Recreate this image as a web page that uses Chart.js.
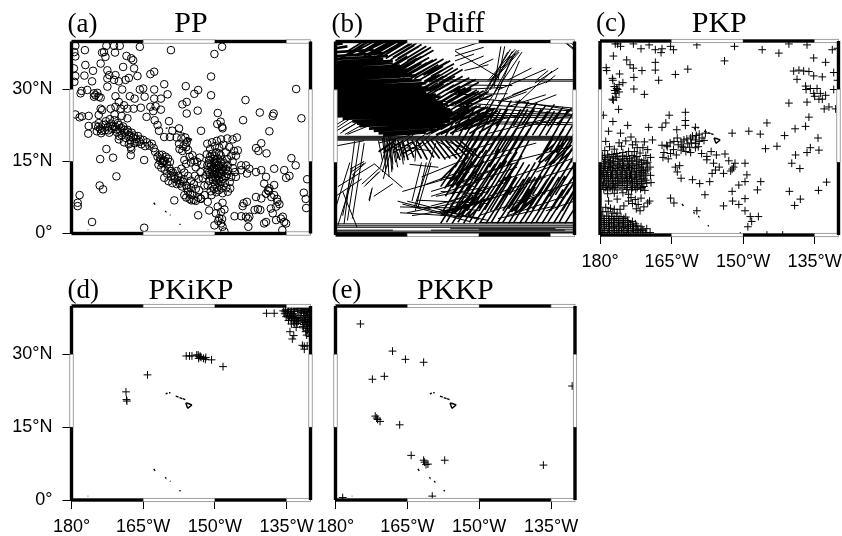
<!DOCTYPE html>
<html>
<head>
<meta charset="utf-8">
<title>Seismic phase coverage</title>
<script src="https://cdn.jsdelivr.net/npm/chart.js@4/dist/chart.umd.min.js"></script>
<style>
  html, body { margin: 0; padding: 0; background: #fff; }
  #page { position: relative; width: 842px; height: 536px; overflow: hidden; }
  canvas { position: absolute; }
</style>
</head>
<body>
<div id="page"></div>
<script>
// Axis ticks and labels (longitudes are degrees west)
const lonTicks = [180, 165, 150, 135];
const lonLabels = ['180°', '165°W', '150°W', '135°W'];
const latTicks = [0, 15, 30];
const latLabels = ['0°', '15°N', '30°N'];
const lonBreaks = [180, 165, 150, 135, 130];
const latBreaks = [40, 30, 15, 0];

// PP bounce points [lon W, lat N]
const ppPoints = [
  [179.2,39.1],[179.4,37.8],[179.2,36.9],[177.2,38.2],[172.7,39.1],[171.1,39.1],[169.9,39.1],[165.7,38.9],[159.2,38.2],[150.1,37.4],[148.5,38.9],
  [173.2,37.8],[170.9,37.7],[173.6,37.7],[168.5,37],[167.5,36.5],[167.1,36.1],[177.1,35.1],[173.9,35.4],[172.9,36.8],[179.5,34.4],[179.2,32.8],
  [177.3,32.9],[179.4,31.6],[175.5,33.9],[175.7,31.7],[169.2,34.7],[166.9,34.4],[166.2,32.8],[172.5,34],[172.1,33],[170.8,33],[172.5,32.3],[171.1,32],[170.1,31.7],[168.7,32],[168,32.4],[163.5,33.2],[162.7,33.7],
  [150.8,32.7],[160.6,31.1],[156.1,30.7],[162.7,30],[154.3,29.1],[153.5,29.9],[159.9,29],[150.8,28.8],[133,30.1],[143.6,27.8],
  [178.1,29.2],[177.9,29.7],[176.7,29.9],[175.3,29.2],[175,28.8],[174.3,28.5],[174.6,29.3],[173.9,28.3],[175.3,28.5],[172.5,30.6],[170.8,28.6],[169.4,30],[167.8,28.6],[166.8,28.1],[165.7,30],[165,30.2],[164.7,28.5],[162.7,28.1],[161.3,28.1],
  [170.1,27.4],[169,26.7],[168.3,26],[170.8,26.4],[171.8,26],[173.6,25.7],[174.3,24.7],[173.9,26],[169.7,26],[179.2,24.8],[178.3,24.2],[177.8,24.4],[176.4,24.5],[176.4,22.4],[176.5,20.8],
  [167,26],[165.5,26.2],[164.3,24.3],[163.5,26.4],[162.4,26.5],[161.3,25.8],[162.9,25.5],[162.6,23.6],[162,22.6],[159.6,23.4],[160.6,20.1],[159.4,20.1],[158.9,21.4],[157.5,21.9],[161.7,21.4],
  [156.8,26.9],[155.9,27.4],[155.9,25],[153.6,25.6],[152.9,21.4],[149.4,25.1],[149.5,22.8],[148.8,23.3],[148.5,22.2],[148.4,21.9],[144.1,23.6],[140.6,25.2],[137.9,24.5],[137.7,25],[138.6,21.3],[131.9,24],
  [140.3,18.8],[141.4,17.8],[140.9,17.2],[139.2,16.7],[134,15.7],[133.1,14.2],[137.6,13.5],[135.5,13.2],[134.4,12],[135.1,11.6],[130.7,11.3],[131.4,8.5],[131,7.2],[130.9,5.3],
  [172.7,17.6],[171.3,15.8],[170.1,19.6],[174,15.5],[170.6,11.9],[174.1,10],[173.4,9.2],[178.3,8],[178.7,6.4],[178.7,5.7],[175.7,2.4],[164.8,1.2],[167.6,16.3],[167.6,18],[164.8,15.3],[158.5,6.9],[153.5,3.8],
  [175,22.5],[174.7,21.3],[174.3,23],[174,21.8],[173.8,20.9],[173.4,22.6],[173,21.5],[172.8,23.4],[172.4,22.2],[172.1,21],[171.7,22.9],[171.5,21.8],[171,23.6],[170.8,22.2],[170.5,21.1],[170.1,22.6],[169.8,21.4],[169.5,20.5],[169.2,22.3],[168.9,21],[168.6,19.9],[168.3,21.6],[168,20.5],[167.7,19.4],[167.4,21],[167.1,20],[166.8,18.8],[166.5,19.7],[166.1,20.3],[165.8,19.1],[165.4,18.6],[165,19.5],[164.6,18.2],[164.2,19],[163.7,18.3],[163.2,18.7],[162.8,17.8],[168,18.6],[167.5,17.5],[169,19],[170,20.3],[172,23.8],[171,24.8],[169.5,24.5],[168.3,24],
  [174.4,22.2],[173.6,21.4],[172.9,22.7],[172.3,21.5],[171.3,22.4],[170.6,21.7],[170.3,23],[169.6,22],[168.9,21.6],[168.1,21.1],[167.6,20.2],[166.9,20.4],[166.3,19.1],[165.6,19.6],
  [162.5,17],[162,16],[161.5,15.2],[161,16.4],[160.7,15],[160.3,16],[160,14.4],[159.8,15.6],[161.8,14.3],[161.2,13.7],[160.5,13.3],[160,12.5],[159.5,13.6],[159.2,11.9],[158.8,12.7],[158.4,11.4],[158,10.3],[158.9,10.5],[157.6,12],[157.2,11],[156.9,9.8],[156.5,11.3],[156,10],[155.6,8.7],[156.4,8],[156,7.5],[155.3,7.2],[154.9,6.9],[154.4,7],[154,6.8],[153.5,7.5],[153,7.3],[155,9.5],[154.4,10.3],[154,9.3],[153.3,9],[159.7,10.9],[160.6,11.6],[158,13],[157,13.5],[156.4,12.7],[155.6,12],[155,11],[154.2,12],
  [161.3,15.6],[160.5,15.2],[161,14.6],[159.4,14.9],[159.2,13],[158.5,12],[157.8,11.1],[157.3,10.4],[156.7,10.8],[155.8,9.4],[155.2,8.3],[154.7,8],[161.6,16.4],[160.9,15.1],
  [158,20],[157.5,18.7],[157,19.8],[156.6,18.2],[156.2,20],[156,18],[155.9,19],[157.4,17.6],[156.8,17.2],[155.6,17.4],[155.3,16],[155,14.8],[154.7,16.3],[154.3,15.2],[154,13.8],[153.7,14.9],[156,14.5],[156.4,15.3],[153.2,15.8],[152.8,14.4],[153,12.8],[152.5,11.5],[153.4,11.4],[152.2,10],
  [151.6,18.7],[150.6,19],[149.6,19.3],[148.7,19.6],[147.4,19.8],[151,17.6],[150,18.2],[149.1,17.9],[148.2,18.5],[147,18],[146,17.2],[151.7,16.5],[150.6,16.6],[149.7,16.9],[148.8,16.3],[147.7,16.9],[146.6,16.2],[151.2,15.3],[150.3,15.5],[149.4,15.6],[148.4,15.2],[147.4,15.5],[146.3,15],
  [151.6,14.2],[150.8,14.4],[150,14.6],[149.2,14.2],[148.3,14],[147.3,14.2],[146.2,13.6],[151.5,13.2],[150.7,13.4],[149.9,13.3],[149,13.1],[148.2,12.9],[147.2,13],[145.8,12.8],[151.8,12.2],[151,12.3],[150.2,12.4],[149.4,12],[148.6,11.8],[147.7,11.9],[146.6,11.8],[151.2,11],[150.4,11.2],[149.6,10.9],[148.8,10.7],[147.9,10.5],[146.9,10.7],[151.5,10],[150.5,9.8],[149.5,9.6],[148.6,9.4],[147.6,9.6],[150.9,8.8],[149.7,8.6],[148.4,8.4],
  [150.9,13.9],[150.2,13.7],[149.6,13.6],[149,13.8],[148.5,13.4],[150.5,12.9],[149.9,12.8],[149.2,12.6],[148.7,12.4],[151.2,12.8],[150.6,11.8],[149.9,11.6],[149.2,11.3],[148.4,11.3],[150.1,15],[149.6,14.9],[148.8,14.8],[148,14.6],[147.7,13.4],[147.4,12.4],[151.2,14.6],[151,16],[150,16.1],[149.1,16.7],[150,10.3],[149,10.2],[150.2,9.3],[149.2,9],
  [146.8,9.4],[147.3,8.7],[151.5,6.6],[152.9,7.2],[145.6,11.8],[148.4,6.4],[150.7,8],[152.1,8],[146.3,19.6],[145.4,20],[145.2,17.3],[145.6,16.2],
  [149.4,5.6],[151.2,4.8],[149.8,4.2],[148.7,4.5],[148,5],[149.1,3.2],[148.7,2.1],[148.4,1.4],[150.1,1.7],[148,0.4],[149.3,2.6],[148.5,3],
  [145.9,3.6],[144.5,3.6],[143.3,6.6],[144,6.3],[144.2,5.7],[143.5,3.5],[142.8,3.5],[143.1,3.1],[143,1.4],[141.7,4.9],[141,5.1],[140.5,4.9],[140.3,7.3],[141.4,7.6],[139.3,2.4],[139.7,2.1],[138.3,5.2],[137.2,5.6],[136.5,6.1],[136.9,6.6],[137.6,8],[138.9,9],[139.3,8.3],[138.6,9.4],[137.6,10.1],[139.3,11.8],[139.7,10.4],[140.3,13.2],[141.4,12.8],[142.8,13.5],[143.5,14.2],[144.5,14.2],[144.5,13.2],[143.3,12.5],[137.9,4.2],[137.2,2.8],[136.2,3.1],[135.5,2.4],[135.1,2.1],[135.9,0.7],[135.8,3.5],[138.7,8.8],[138.2,7.6],[137,7.2]
];

// Pdiff diffracted path segments [lon1, lat1, lon2, lat2]
const pdiffCore = [
  [180,39.4,178.5,39.6],[180,38.6,177.5,39],[180,37.8,172,38.3],[180,37,170,37.6],[180,36.4,169,37],[180,35.8,170,36.4],[180,35.3,168,36],[180,34.8,168,35.6],[180,34.3,166.5,35],[180,33.8,167,34.6],[180,33.3,165,34.2],[180,32.8,165.5,33.6],[180,32.4,164,33.3],[180,32,163,33],[180,31.5,164,32.3],[180,31,162,32],[180,30.5,161,31.4],[180,30,162,30.9],[180,29.5,160.5,30.5],[180,29,160,30],[180,28.5,161,29.5],[180,28,159,29],[180,27.5,158,28.6],[180,27,159,28],[180,26.5,157.5,27.5],[180,26,156.5,27],[180,25.5,157,26.5],[180,25,156,26],[180,24.5,155.5,25.5],[178.5,24,155,25],[176.5,23.5,156,24.5],[175.5,23,155,24],[175,22.5,156,23.5],[173,22,157,23],[172,21.5,157,22.5],[171,21,159,21.8],[170,20.6,161,21.2]
];
const pdiffEdge = [
  [178,37,173,40],[177,37.3,172,40],[176,37,171,40],[175,37.2,170,40],[174,37,169,39.8],[173,37,168,39.9],[172,37.2,167,40],[171,37,166,39.8],[170,37,165,40],[169,36.8,164,39.6],[168,36.7,163,39.7],[167,36.5,162,39.4],[166,36,161,39],[165,36,160,38.8],
  [179,36.5,174,39.6],[177.5,38,174.5,39.8],[175.5,37,170.5,39.9],[174.5,37.6,169.5,40],[173.5,36.8,168.5,39.8],[172.5,37.5,167.5,40],[171.5,36.8,166.5,39.7],[170.5,37.2,165.5,40],[169.5,36.5,164.5,39.5],[168.5,36.2,163.5,39.2],[167.5,36,162.5,39],[166.5,35.7,161.5,38.7],[165.5,35.5,160.5,38.5],[164.5,35.3,159.5,38.2],
  [170,34,165,37],[169,34.3,164,37.2],[168,33.6,163,36.5],[167.2,34,162,36.9],[166.4,33.5,161,36.4],[165.6,33.7,160.4,36.7],[164.8,33.4,159.6,36.2],[164,33.5,158.8,36.4],[163.2,33.2,158,36],[162.4,33.5,157.4,36.4],[161.6,33,156.6,35.8],[160.8,33.3,156,36],[160,32.8,155.2,35.4],
  [171,33,166,36],[169.6,33,164.6,36],[168.4,32.8,163.4,35.8],[167,32.5,162,35.5],[165.9,32.6,160.9,35.6],[164.5,32.2,159.5,35.2],[163.5,32.3,158.5,35.2],[162.5,32,157.5,34.9],[161.4,31.8,156.4,34.8],[160.4,31.6,155.4,34.6],[159.4,31.5,154.4,34.4],[158.4,31.3,153.4,34.2],
  [164,30,159,33],[163.2,30.4,158.2,33.2],[162.4,30,157.4,32.8],[161.6,30.3,156.6,33],[160.8,29.8,155.8,32.6],[160,30,155,32.8],[159.2,29.7,154.2,32.4],[158.4,30,153.4,32.8],[157.6,29.6,152.6,32.2],[156.8,29.9,152,32.5],[156,29.4,151.2,32],[155.2,29.7,150.6,32.2],[154.4,29.2,150,31.6],
  [163.6,28.5,158.6,31.5],[162.4,28.2,157.4,31.2],[161.4,28.3,156.4,31.3],[160.2,28,155.2,31],[159,27.8,154,30.8],[157.8,27.5,152.8,30.5],[156.6,27.6,151.6,30.4],[155.4,27.2,150.4,30],[154,27,149,29.8],[152.8,26.8,148,29.6],
  [159,27,154,30],[158.2,27.4,153.2,30.2],[157.4,27,152.4,29.7],[156.6,27.3,151.6,30],[155.8,26.8,150.8,29.4],[155,27,150,29.7],[154.2,26.6,149.4,29],[153.4,26.9,148.6,29.4],[152.6,26.4,148,28.7],[151.8,26.7,147.2,29],
  [157,24,152,27],[156.2,24.4,151.2,27],[155.4,24,150.4,26.7],[154.6,24.2,149.6,26.8],[153.8,23.8,148.8,26.4],[153,24,148,26.5],[152.2,23.6,147.4,26],[151.4,23.8,146.6,26.2],[150.6,23.4,146,25.7],[155,22,150,24.6],[154,21.6,149,24.4],[153,21.8,148.2,24],[152,21,147.4,23.6],
  [160,24.5,155,27.5],[159,24,154,27],[158,23.8,153,26.8],[157,23.4,152,26.2],[156,23.2,151,26],[155,23,150,25.8],[154,22.6,149,25.4],[153,22.4,148,25.2],[152,22,147,24.8],[151,21.6,146,24.4],[150,21.2,145,24],[158,21.8,153,24.6],[157,21.2,152,24],[156,21,151,23.8],
  [162,21,157,23.5],[161,20.8,156,23.2],[160,21,155,23.6],[159,20.7,154,23],[158,20.8,153,23.3],
  // mass under the 20N band
  [168,19.6,166.5,15.5],[167,19.6,165.6,16],[166,19.6,164.8,15.5],[165,19.6,163.6,16],[164,19.6,162,15.8],[163,19.6,160.8,15.6],[162,19.6,159.4,16],[161,19.6,158.2,15.8],[160,19.6,157,15.6],[159,19.6,156,15.8],[158,19.6,154.6,15.8],[157,19.6,153.6,15.8],[156,19.6,152.4,16.2],[155,19.6,151,16.2],[154,19.6,150,16],[167.5,19.6,171,17.2],[166,19.4,170,17],[164,19.2,168,17],[162,19,166,16.8]
];
const pdiffLines = [
  // horizontal bands
  [180,20,130,20],[180,20.2,130,20.2],[180,20.4,130,20.4],[180,19.8,130,19.8],[180,19.6,130,19.6],[160,32.1,130,32.1],[160,31.8,130,31.8],[142.4,27.7,130.3,25.8],[150,28.2,130,26.2],[158.7,27.7,130,25.6],[158,26.9,130,24.9],[157,24.8,130,24.6],[156,24.4,130,24.2],[155,25.2,131,25],[150,23.4,130,23.2],[150,23,130,22.8],[180,18.4,174,19.5],
  [180,1.9,130,1.9],[180,1.6,130,1.6],[180,2.3,130,2.3],[180,0.8,130,0.8],[180,0.5,130,0.5],[180,0.3,130,0.3],[180,1,168,1],[160,1,132,1],[156,1.3,134,1.3],[150,2.6,130,2.6],[150,1.2,130,1.2],
  // white wedge at the left edge above the 20N band
  [180,21.4,176.5,23.5],[180,22,177,24],[179,21,175,23.6],[178,20.8,174,23],[180,22.7,177.5,24.2],[178.5,21.5,175.5,23.2],[177.5,20.8,173.5,22.4],
  // lower edge of the core
  [170,22,169.5,13],[169,21,168,13.5],[168.5,21,168,14.6],[169.3,20,168.8,12],[168.8,20,168.2,13],[168,20,167,14],[167.5,20,167,15.8],[166.5,19,165.8,14.6],[169.8,20,169,14],[170.2,20,169.5,15],[167,19,166.3,16.2],[168.2,19,167.4,15],[169,19,168.4,16],[166,19,165.6,15.4],[171,19.5,170.2,15.5],[163,19.6,163.4,15.2],
  [163,21,171,19],[162,22,168,17.5],[161,21,166,17.4],[160,21,164,17],[158,21,165,16.4],[159,19.5,156,18],[157,19.5,152,17.5],
  // bottom left sparse paths
  [176,19.4,178.2,2.3],[175,19.2,177.5,3],[174,19,176.5,3.4],[179.5,2,176,13],[178.5,4,176.5,14],[180,5.5,177,15],[179.5,10,172,14.6],[180,8,174.5,11.6],[178.5,9,175.5,1.6],
  [177,13.6,174,15.2],[176.8,13,174,14.8],[176.5,12.4,173.6,15],[174.5,10.5,170.6,14],[174,10,171,13],[173.6,10.4,170.6,13.2],[172,14.8,166,9.8],[173,7.2,172.3,9.8],[172.9,7,172.4,9.4],[170.6,14,169,19.5],[170.2,13,168.5,19],[170,11.6,168,19],
  [165,18,160,17.4],[164.5,14.6,158.5,14],[168,10.6,172,8],[162,15,164,7],[161,15,163.3,5],[160,15,162.8,5.5],[159,19,163.5,5.8],[166,9,152,13],[166,6.4,152,2.8],[166.5,4.6,150,3.6],[165,7,150,3.2],
  // sparse mid bottom
  [167,7,154,3.6],[166.5,5.8,155,5.6],[165,4.6,151,7.4],[164,4,152,5.8],[160,9,150,12],[161,10.5,150,14.5],[162,12,152,16],[158,9,150,8.5],[157,12,151,10],[159,8,148,10],[163,7.2,148,6.5],[156,6,150,5],[158,5,148,3],
  // shallow crossing paths on the right
  [158,4,146,8],[156,7,144,11],[157,10,145,14],[155,13,143,17],[150,4,138,8],[148,8,136,12],[146,11,134,15],[144,4,132,8],[142,7,130,11],[140,11,130,14],[150,16,138,19],[157,16,147,19],[146,3.4,134,6],[152,6,140,10],[154,10,142,14],[138,13,130,16],[144,15,132,18],[152,12,142,15],[160,8,150,11],[160,6,148,9],[136,5,130,7],[148,21,136,24],[156,21,144,24.5],[142,22,130,25],[150,23,140,25],
  // bundle toward the top middle
  [147.7,31.9,142,38.2],[147.3,31.9,141.6,38.2],[147,31.9,141.6,37.8],[148.1,31.9,142.4,38.4],[148.5,29,143.4,37],[149.4,28,144,37.8],[150,27.7,143.4,38.4],[149,26,141,37.8],[147,29,142.4,37.6],[146.6,28,143,37],[146.8,30.6,145.4,39],[146,32,144.6,39],[147.6,30,143,38],[145,28,141.5,36],[155,38,146.2,32.8],
  [138.3,31.4,133.4,34.5],[141.4,27.7,134.7,33.9],[144,32,139,34.5],[146,30,136,34.3],[143,29,135,32],[136,31.4,134,33],[138,32,135.5,34],[132,39.8,129.8,38],[131.6,39.7,130,38.4],[131,39.8,130,39.2],
  [155,38.2,150,39.8],[155,37,149,38.8],[155,36,151,37.4],[154,35,149,37],[150,35,147,36.4],[153,34,148,35.2],[145,28,139,30.5],[146,27.4,140,29.6],[144,26.5,136,29],[140,26.6,133.8,29],[155,30,145,30.5],[155,29,144,29.2],[153,31,143,30.9]
];
// Dense hatch on the right side
const pdiffHatch = [
  [158,2.4,153.5,9.5],[156.8,2.6,152.3,10],[155.6,2.4,151.2,9],[154.4,2.6,149.9,9.6],[153.2,2.4,148.8,9.6],[152,2.6,147.6,10],[150.9,2.4,146.4,9.3],[149.7,2.6,145.2,9.8],[148.5,2.4,144,9.4],[147.4,2.6,143,10],[146.2,2.4,141.8,9],[145,2.6,140.5,9.6],[143.8,2.4,139.4,9.6],[142.7,2.6,138.2,10],[141.5,2.4,137,9.2],[140.3,2.6,135.8,9.7],[139.1,2.4,134.6,9.3],[138,2.6,133.5,10],[136.8,2.4,132.4,9.4],[135.6,2.6,131.1,9.6],[134.4,2.4,130,9.4],[133.2,2.6,129.4,9.4],[132,2.4,129,7],
  [157.5,5,153,12],[156.2,5.4,151.8,12.4],[155,5,150.5,11.6],[153.8,5.3,149.4,12],[152.5,5,148,12],[151.4,5.4,147,12.5],[150,5,145.6,11.6],[148.8,5.2,144.4,12],[147.6,5,143.2,12.2],[146.4,5.3,142,12],[145,5,140.6,11.6],[143.8,5.4,139.4,12],[142.6,5,138.2,12],[141.4,5.2,137,12.3],[140,5,135.6,11.6],[138.8,5.3,134.4,12],[137.6,5,133.2,12],[136.4,5.4,132,12.2],[135,5,130.6,11.6],[133.8,5.2,129.4,12],[132.6,5,129,10.6],
  [157,8,152.8,15],[155.6,8.4,151.4,15.2],[154.4,8,150.2,14.6],[153.2,8.3,149,15.4],[152,8,147.8,15],[150.8,8.5,146.6,14.7],[149.6,8,145.4,15],[148.4,8.4,144.2,15.4],[147.2,8,143,14.8],[146,8.4,141.8,15],[144.8,8,140.6,15],[143.6,8.3,139.4,14.6],[142.4,8,138.2,15],[141.2,8.4,137,15.2],[140,8,135.8,14.7],[138.8,8.3,134.6,15],[137.6,8,133.4,15],[136.4,8.4,132.2,15.2],[135.2,8,131,14.8],[134,8.3,129.8,15],[132.8,8,129,14],[131.6,8.4,129.4,12],
  [156,11,152,17.5],[154.8,11.3,150.8,17.8],[153.6,11,149.6,17.4],[152.4,11.4,148.4,17.6],[151,11,147,17.5],[149.8,11.3,145.8,17.8],[148.6,11,144.6,17.4],[147.4,11.4,143.4,17.6],[146,11,142,17.2],[144.6,11.2,141,16.4],[137,11.3,133,17.6],[135.8,11,131.8,17.4],[134.6,11.4,130.6,17.8],[133.4,11,129.4,17.5],[132.2,11.3,129,16],
  [155,14,151.3,20],[153.8,14.4,150.1,20],[152.6,14,148.9,20],[151.4,14.3,147.7,20],[150.2,14,146.5,20],[149,14.2,145.3,20],[147.8,14,144.1,20],[146.6,14.4,142.9,20],[145.4,14,141.7,20],[144.2,14.3,140.5,20],[142,15,139.5,19.6],[137.5,15,134.5,20],[136.3,14,132.6,20],[135.1,14.4,131.4,20],[133.9,14,130.2,20],[132.7,14.3,129,20],[131.5,14,129.4,17.4],[130.8,15,129.6,17],
  [155,17,152,22],[153.6,17.3,150.6,22],[152.2,17,149.2,22],[150.8,17.2,147.8,22],[149.4,17,146.4,22],[148,17.3,145,22],[146.6,17,143.6,22],[145.2,17.2,142.2,22],[143.8,17,140.8,22],[142.4,17.3,139.4,22],[136.6,17,133.6,22],[135.2,17.2,132.2,22],[133.8,17,130.8,22],[132.4,17.3,129.4,22],[131,17,129,20.4],
  [157,20.4,153.8,26],[155.6,20.6,152.4,26.2],[154.2,20.4,151,26],[152.8,20.6,149.6,26],[151.4,20.4,148.2,26],[150,20.6,146.8,26.2],[148.6,20.4,145.4,26],[147.2,20.6,144,26],[145.8,20.4,142.6,26],[144.4,20.6,141.2,26],[143,20.4,139.8,26],[141.6,20.6,138.4,26],[140.2,20.4,137,26],[138.8,20.6,135.6,25.6],[137.4,20.4,134.2,25.6],[136,20.6,132.8,25.8],[134.6,20.4,131.4,25.8],[133.2,20.6,130,25.6],[131.8,20.4,129,25],
  [150,22.5,146.8,28],[148.2,22.8,145,28.2],[146.4,22.5,143.2,27.8],[144.6,22.7,141.4,28],[142.8,22.5,139.6,27.6],[141,22.8,137.8,27.4],[139.2,22.5,136,26.8],[137.4,22.6,134.2,27],[135.6,22.5,132.4,26.4],[133.8,22.7,130.6,26.2],
  // darker patches
  [158,10,153.8,16],[157.2,9.6,153,15.6],[156.4,10.4,152.2,16.4],[155.6,9.8,151.4,15.8],[154.8,10.2,150.6,16],[158,11.4,154.4,15],[156,11,151.8,14.4],[154,9,150,14],[152.4,9.4,148.2,13.6],
  [156,4,152,8],[155.2,4.4,151.2,8],[154.4,3.8,150.4,8],[153.6,4.2,149.6,8.4],[152.8,4,148.8,8],[152,3.8,148,7.6],[158,4.4,148,7.4],[157,5,147,7.8],
  [137,15,133,18.6],[136.2,15.2,132.2,19],[135.4,14.6,131.4,18.4],[134.6,14.8,130.6,18.6],[133.8,14.6,130,18],[138,15.6,134,19],
  [144,4.4,140,8],[143.2,4.8,139.2,8.2],[142.4,4.4,138.4,7.8],[141.6,4.6,137.6,8.2]
];

// PKP points [lon W, lat N]
const pkpPoints = [
  [176.8,39.4],[175.7,38.9],[176.3,39.4],[177.2,36.9],[173,39.4],[171.4,38.4],[169.7,39.2],[168.4,38.2],[167,38.4],[167.2,37.6],[164.6,38.2],[165.2,38.9],[159.7,39.2],[151.8,38.9],[146,38.2],[142.5,37.5],[140.4,39.4],[136.6,39.2],[130.2,38.5],[131.3,38.2],[153.9,35.9],[161.6,34.2],[164.2,33.1],[167.7,31.9],[168.4,35.6],[168.4,34],[174.4,36.1],[173.7,35.1],[173,34.4],[171.2,33.9],[178.7,34.5],[178.6,33.9],[175.9,33.2],[177.4,32.3],[175.2,31.4],[172.9,32.5],[172.9,30.1],[170.7,29],[176.5,30.2],[176.8,29.2],[177.2,27.8],[176.1,25.9],[177.3,31.9],[177,30.6],[176,31],[176.6,28.4],[177.4,28],[176,29.5],[176.3,30],[176.9,29.8],
  [179.3,24.7],[177.3,23.4],[178.2,21.4],[174.2,22.6],[175.7,21],[169.8,22.2],[167,22.2],[166.2,23.1],[165.5,24.7],[162.1,25.3],[162.1,23.6],[162.1,22.6],[163.9,21.7],[160,22.2],[157.9,21],[152.3,21],[148.8,21.4],[146.4,20.8],[145,23.1],[145.3,17.8],[142.9,18.3],[141.3,20.5],[139.1,21.9],[136.9,22.4],[136.2,24.3],[134.3,20],[139,16.5],[136.6,17],[135.9,18],[134.1,17.5],[139.8,14.8],[138.1,13.7],[132.5,10.9],[134.2,9.2],[140.3,9],[138,7.4],[139.2,6.1],
  [139.4,33.8],[138.3,34],[137.3,33.8],[136.2,33.7],[135.2,32.8],[133.4,32.6],[138.7,32.1],[132.7,35.6],[135.2,36.5],[131,33.5],[130.2,31.9],[136.9,30.7],[135.9,30.2],[134.5,30.2],[133.8,29.2],[132.7,28.8],[135.2,29.2],[134.1,28],[136.6,27.4],[140.4,27.2],[131,30],[132,26.4],[130.6,26],[133,26],[136.8,30],[135,28.6],[133.4,28],
  [169,19.6],[170.7,19.2],[172.5,19.2],[167,18.5],[165.9,18.2],[164.5,19.3],[163.8,20],[162.4,19.6],[161,20],[159.2,20.8],[158.6,20],[166.6,17],[165.2,16.8],[164.2,14],[163,11.7],[160.6,11.4],[159.1,10.6],[158,8.3],[159.4,18.2],[158.7,16.8],[157.6,15.5],[156.2,14.8],[155.8,13.4],[154.1,12.7],[153,15.3],[151.7,14.8],[149.6,14.8],[149.2,12.4],[149.6,11],[150.9,10.3],[146.3,11],[152.3,9],[154.1,6],[152.2,7],[150.9,6.3],[149.6,7.5],[149.6,5],[148.5,3.8],[146.8,3.8],[148.2,2.8],[149,1.7],[165.2,7.6],[164.5,6.6],[159.7,5],[156.7,17.2],[155.6,16.5],[153.8,16.7],[157.6,16.2],
  [166,18.5],[165.3,19],[164.6,17.6],[163.6,18.6],[163,19.2],[162.5,18],[161.6,18.8],[160.8,19],[160,19.6],[163,17.5],[162,17.2],[164,16.5],[161,17],[160,18],[159.2,19.3],[158.2,19.5],[161.8,19.8],[160.6,20.4],[159.8,20.5],[166.8,16],[165.7,15.7],[163.3,14.3],[163.8,13],[152,14],[152.6,13.2],[156.5,12.7],[157,11],[155,14],[147,9.3],[162.8,18.3],[161.2,18.1],[159.9,18.9],[152.3,13.6],
  [176,19],[175.5,18.3],[174.6,19.4],[173.5,20.2],[173.2,18.6],[172.2,18],[171,18],[170,17.6],[178.8,19.3],[178,18.2],[179,17.4],[177,17.7],[176.5,16.8],[175.2,17],[174,17.2],[172.8,17.2],[171.6,16.9],[170.4,16.4],[169.4,16],
  [179.5,16.4],[178.4,16.5],[177.5,16.6],[179.7,15.5],[178.8,15.6],[177.8,15.4],[176.8,15.8],[175.8,15.6],[174.8,15.8],[173.8,15.7],[172.8,15.9],[171.8,15.5],[170.8,15.4],[179.3,14.7],[178.3,14.6],[177.3,14.8],[176.3,14.6],[175.3,14.8],[174.3,14.6],[173.3,14.8],[172.3,14.6],[171.3,14.5],[170.3,14.7],[169.5,14],
  [179.6,13.8],[178.8,13.7],[177.8,13.9],[176.8,13.7],[175.8,13.9],[174.8,13.7],[173.8,13.9],[172.8,13.7],[171.8,13.8],[170.9,13.4],[179.2,12.9],[178.3,12.9],[177.3,13],[176.3,12.8],[175.3,13],[174.3,12.8],[173.3,13],[172.3,12.8],[171.3,12.9],[170.4,12.6],[169.4,12.3],
  [179.6,12.1],[178.7,12],[177.8,12.1],[176.8,11.9],[175.8,12.1],[174.8,11.9],[173.8,12.1],[172.8,11.9],[171.8,12],[170.8,11.7],[169.3,10.8],[179.2,11.1],[178.2,11.2],[177.3,11],[176.3,11.2],[175.3,11],[174.3,11.2],[173.3,11],[172.3,11.1],[171.3,11],[170.2,10.7],
  [179.5,10.2],[178.6,10.3],[177.7,10.1],[176.7,10.3],[175.8,10.2],[174.8,10.2],[173.7,10.3],[172.8,10.1],[171.8,10.3],[170.8,10],[179.2,9.4],[178.4,9.3],[177.4,9.5],[176.4,9.3],[174.4,9.4],[173.4,9.3],[172.5,9.4],[174,8.4],[173.5,7.7],[174,7],[173.2,6.5],[177,8.6],[178.4,8.5],[175.2,8.7],
  [179.1,16],[178.1,16.1],[177.2,16.1],[176.3,16.2],[175.3,16.3],[174.4,16.2],[173.3,16.4],[172.3,16.2],[179,15.1],[178.1,15],[177.2,15.1],[176.2,15.2],[175.2,15.3],[174.2,15.2],[173.3,15.3],[172.3,15.2],[171.3,15],[170,15],[179.1,14.2],[178.1,14.1],[177.1,14.3],[176,14.2],[175.1,14.3],[174,14.2],[173.1,14.3],[172,14.2],[171,14],[170,13.6],
  [179.2,13.3],[178.4,13.3],[177.4,13.4],[176.4,13.3],[175.4,13.4],[174.4,13.3],[173.4,13.4],[172.4,13.2],[171.4,13.3],[170.4,13.2],[179.4,12.5],[178.6,12.4],[177.6,12.5],[176.6,12.4],[175.6,12.5],[174.6,12.4],[173.6,12.5],[172.6,12.4],[171.6,12.4],[170.8,12.2],[179.1,11.6],[178.3,11.6],[177.4,11.6],[176.3,11.6],[175.4,11.6],[174.4,11.6],[173.4,11.6],[172.4,11.5],[171.4,11.5],[170.4,11.3],[179.2,10.7],[178.2,10.7],[177.2,10.6],[176.2,10.7],[175.2,10.7],[174.2,10.7],[173.2,10.7],[172.2,10.6],[171.2,10.6],
  [178.8,9.8],[177.9,9.7],[176.9,9.8],[175.4,9.7],[174.3,9.8],[173.2,9.8],[172.2,9.8],[171.2,9.8],[171.5,9.5],[170.6,9.2],[172,6.3],[170.8,5.8],[170,6.6],[169.6,7],[175,6],[175.8,5.3],[172.4,5.4],[171.6,5],[176.4,7.4],[178.2,7],[172.6,7.3],[171.4,7.6],
  [178.8,5.7],[177.8,5.5],[177,5.3],[178.3,4.8],[179.4,4.8],[177.3,4.5],[176.4,4.5],[179.6,3.9],[178.6,3.9],[177.6,3.8],[176.6,3.8],[175.6,3.8],[174.6,3.7],[179.2,3],[178.2,3],[177.2,3.1],[176.2,3],[175.2,3],[174.2,3],[173.2,2.8],[172.6,2.3],[179.6,2.2],[178.6,2.2],[177.6,2.3],[176.6,2.1],[175.6,2.3],[174.6,2.1],[173.6,2.2],[172.3,1.9],[171.4,1.7],[179.2,1.4],[178.2,1.3],[177.2,1.5],[176.2,1.3],[175.2,1.5],[174.2,1.3],[173.2,1.4],[172.2,1.2],[171.2,1.2],[170.2,1.3],[179.5,0.5],[178.5,0.5],[177.5,0.6],[176.5,0.5],[175.5,0.6],[174.5,0.5],[173.5,0.6],[172.5,0.5],[171.5,0.6],[170.5,0.5],[169.5,0.5],
  [179.1,3.4],[178.1,3.4],[177,3.4],[176,3.4],[175,3.4],[179.1,2.6],[178.1,2.6],[177.1,2.6],[176.1,2.6],[175.1,2.6],[174.1,2.6],[179,1.8],[178,1.8],[177,1.8],[176,1.8],[175,1.8],[174,1.8],[173,1.8],[179,0.9],[178,0.9],[177,0.9],[176,0.9],[175,0.9],[174,0.9],[173,0.9],[172,0.9],[171,0.9],
  [150.6,-0.2],[145,0],[141.7,0]
];

// PKiKP points [lon W, lat N]
const pkikpPoints = [
  [139.2,38.5],[137.6,38.5],[156,29.7],[155.3,29.7],[154.8,29.7],[153.8,29.9],[153.5,29.9],[153.3,29.6],[153,29.6],[153.4,29.2],[152.9,29.4],[152.4,29.2],[151.9,29.4],[152,29],[150.7,28.9],[148.3,27.5],[164.1,25.8],[168.6,22.3],[168.5,20.7],[168.4,20.4],
  [134.3,34.7],[133.5,33.9],[133.8,33.2],[131.7,31.9],[131.3,31.7],[131.3,31.1],[130.7,31.8],
  [135.7,39],[135.2,39.2],[134.6,39.3],[134,39.4],[133.4,39.3],[132.8,39.5],[132.2,39.4],[131.6,39.5],[131,39.3],[130.4,39.4],[135.4,38.4],[134.8,38.5],[134.2,38.6],[133.6,38.4],[132,38.6],[131.4,38.5],[130.8,38.6],[130.2,38.3],[135.1,37.8],[134.4,37.7],[133.8,37.8],[133.2,37.7],[132.6,37.6],[131.1,37.7],[130.5,37.6],[134.6,37],[134,37],[133.4,37.1],[132.5,36.9],[131.7,37],[131,36.9],[130.3,36.8],[134,36.3],[133.4,36.3],[132.8,36.4],[131.4,36.2],[130.8,36.2],[130.2,36],[133,35.6],[131.5,35.5],[130.9,35.4],[130.3,35.3],[131,34.7],[130.3,34.6],[130.8,34],[130.2,33.7],
  [135.3,38.8],[134.7,38.9],[134,38.9],[133.3,38.9],[132.6,39],[131.9,39],[131.2,38.9],[130.6,38.9],[134.9,38],[134.2,38.1],[133.5,38.1],[132.2,38],[131.4,38],[130.7,38],[130.3,37.2],[131.2,37.3],[132,37.3],[133,37.4],[134,37.4],[133.5,36.7],[132.9,36.7],[131.2,36.6],[130.6,36.5],[131.6,35.8],[130.6,35.8],[130.6,35]
];

// PKKP points [lon W, lat N]
const pkkpPoints = [
  [174.8,36.3],[168.1,30.7],[165.4,29],[161.6,28.4],[169.8,25.5],[172.3,24.9],[130.6,23.5],[171.7,17.3],[171.4,16.9],[171.2,16.6],[170.7,16.2],[166.6,15.5],[164.2,9.2],[161.6,8.2],[161.4,7.8],[161.1,7.3],[160.7,7.4],[157.2,8.2],[136.6,7.2],[178.5,0.5],[159.8,0.8]
];

// Hawaiian islands and the small atolls, drawn in every panel
const islandOutlines = [
  [156.1,20,155.6,19.9],[155.6,19.9,154.8,19.6],[154.8,19.6,155.7,18.9],[155.7,18.9,156.1,20],
  [158.2,21.4,157.6,21.2],[157.4,21.1,156.8,20.9],[156.7,20.9,156.2,20.7],[160.3,21.9,159.9,22],[159.6,22.1,159.3,22.1],
  [162.8,6.4,162.5,6],[160.4,4.7,160.3,4.6],[159.4,3.9,159.3,3.8],[157.4,2,157.2,1.8],[176.6,0.8,176.5,0.8]
];

// Pixel boxes of the five panels on the page
const panelBoxes = {
  a: { cx: 0, cy: 0, cw: 325, ch: 270, left: 71.5, right: 310.5, top: 41.5, bottom: 233.5, gap: 2 },
  b: { cx: 300, cy: 0, cw: 320, ch: 270, left: 335.5, right: 574.5, top: 41.5, bottom: 235, gap: 2 },
  c: { cx: 560, cy: 0, cw: 320, ch: 280, left: 600, right: 838.5, top: 41, bottom: 235, gap: 2 },
  d: { cx: 0, cy: 270, cw: 325, ch: 266, left: 71.5, right: 310.5, top: 306, bottom: 500, gap: 0 },
  e: { cx: 300, cy: 270, cw: 320, ch: 266, left: 335.5, right: 575, top: 306, bottom: 500, gap: 0 },
};
const titleSize = 30;

function toXY(points) {
  return points.map(([x, y]) => ({ x, y }));
}

// Segment lists become one line dataset, a null point breaks the line
function segmentData(segments) {
  const out = [];
  segments.forEach(([x1, y1, x2, y2]) => {
    out.push({ x: x1, y: y1 }, { x: x2, y: y2 }, { x: null, y: null });
  });
  return out;
}

function lineDataset(segments, width) {
  return {
    data: segmentData(segments),
    showLine: true,
    spanGaps: false,
    borderColor: '#000',
    borderWidth: width,
    pointRadius: 0,
    borderCapStyle: 'butt',
  };
}

function markerDataset(points, style, radius) {
  return {
    data: toXY(points),
    pointStyle: style,
    pointRadius: radius,
    pointBorderWidth: 1,
    pointBorderColor: '#000',
    pointBackgroundColor: 'transparent',
    borderColor: '#000',
    backgroundColor: 'transparent',
    showLine: false,
  };
}

// Alternating black and white map frame, after the data so it covers line ends
const mapFrame = {
  id: 'mapFrame',
  afterDatasetsDraw(chart) {
    const { ctx, chartArea: area, scales } = chart;
    const band = 3.4;
    const half = band / 2;
    ctx.save();
    ctx.lineWidth = 0.7;
    ctx.strokeStyle = '#777';
    const paint = (x, y, w, h, black) => {
      ctx.fillStyle = black ? '#000' : '#fff';
      ctx.fillRect(x, y, w, h);
      if (!black) ctx.strokeRect(x, y, w, h);
    };
    for (let i = 0; i < lonBreaks.length - 1; i++) {
      const x1 = scales.x.getPixelForValue(lonBreaks[i]);
      const x2 = scales.x.getPixelForValue(lonBreaks[i + 1]);
      paint(x1, area.top - half, x2 - x1, band, i % 2 === 0);
      paint(x1, area.bottom - half, x2 - x1, band, i % 2 === 0);
    }
    for (let i = 0; i < latBreaks.length - 1; i++) {
      const y1 = scales.y.getPixelForValue(latBreaks[i]);
      const y2 = scales.y.getPixelForValue(latBreaks[i + 1]);
      paint(area.left - half, y1, band, y2 - y1, i % 2 === 0);
      paint(area.right - half, y1, band, y2 - y1, i % 2 === 0);
    }
    ctx.restore();
  },
};

// Panel letter sits left of the centred title
const panelLetter = {
  id: 'panelLetter',
  afterDraw(chart, args, opts) {
    const { ctx, chartArea } = chart;
    ctx.save();
    ctx.fillStyle = '#000';
    ctx.font = '27px "Liberation Serif"';
    ctx.textAlign = 'left';
    ctx.textBaseline = 'middle';
    ctx.fillText(opts.text, chartArea.left - 4, chartArea.top - opts.gap - titleSize / 2);
    ctx.restore();
  },
};

function renderPanel(key, title, datasets, showLon, showLat) {
  const box = panelBoxes[key];
  const canvas = document.createElement('canvas');
  canvas.width = box.cw;
  canvas.height = box.ch;
  canvas.style.left = box.cx + 'px';
  canvas.style.top = box.cy + 'px';
  canvas.style.width = box.cw + 'px';
  canvas.style.height = box.ch + 'px';
  document.getElementById('page').appendChild(canvas);

  const axisFont = { family: '"Liberation Sans"', size: 18 };

  new Chart(canvas.getContext('2d'), {
    type: 'scatter',
    data: { datasets },
    plugins: [mapFrame, panelLetter],
    options: {
      responsive: false,
      animation: false,
      devicePixelRatio: 1,
      layout: {
        padding: {
          left: 0,
          right: box.cw - (box.right - box.cx),
          top: box.top - box.cy - titleSize - box.gap,
          bottom: 0,
        },
      },
      plugins: {
        legend: { display: false },
        tooltip: { enabled: false },
        panelLetter: { text: '(' + key + ')', gap: box.gap },
        title: {
          display: true,
          text: title,
          fullSize: false,
          color: '#000',
          font: { family: '"Liberation Serif"', size: titleSize, weight: 'normal', lineHeight: 1 },
          padding: { top: 0, bottom: box.gap },
        },
      },
      scales: {
        x: {
          type: 'linear',
          reverse: true,
          min: 130,
          max: 180,
          afterBuildTicks: (axis) => { axis.ticks = lonTicks.map((value) => ({ value })); },
          afterFit: (axis) => { axis.height = box.cy + box.ch - box.bottom; },
          border: { display: false },
          grid: { drawOnChartArea: false, drawTicks: showLon, tickLength: 9, tickColor: '#000', tickWidth: 1 },
          ticks: {
            display: showLon,
            color: '#000',
            font: axisFont,
            padding: 7,
            maxRotation: 0,
            autoSkip: false,
            callback: (value) => lonLabels[lonTicks.indexOf(value)],
          },
        },
        y: {
          type: 'linear',
          min: 0,
          max: 40,
          afterBuildTicks: (axis) => { axis.ticks = latTicks.map((value) => ({ value })); },
          afterFit: (axis) => { axis.width = box.left - box.cx; },
          border: { display: false },
          grid: { drawOnChartArea: false, drawTicks: showLat, tickLength: 9, tickColor: '#000', tickWidth: 1 },
          ticks: {
            display: showLat,
            color: '#000',
            font: axisFont,
            padding: 10,
            autoSkip: false,
            callback: (value) => latLabels[latTicks.indexOf(value)],
          },
        },
      },
    },
  });
}

function islands() {
  return lineDataset(islandOutlines, 1.4);
}

renderPanel('a', 'PP', [markerDataset(ppPoints, 'circle', 3.8), islands()], false, true);
renderPanel('b', 'Pdiff', [lineDataset(pdiffCore, 2.7), lineDataset(pdiffEdge, 1.7), lineDataset(pdiffLines, 1), lineDataset(pdiffHatch, 1.6)], false, false);
renderPanel('c', 'PKP', [markerDataset(pkpPoints, 'cross', 3.9), islands()], true, false);
renderPanel('d', 'PKiKP', [markerDataset(pkikpPoints, 'cross', 3.9), islands()], true, true);
renderPanel('e', 'PKKP', [markerDataset(pkkpPoints, 'cross', 3.9), islands()], true, false);
</script>
</body>
</html>
